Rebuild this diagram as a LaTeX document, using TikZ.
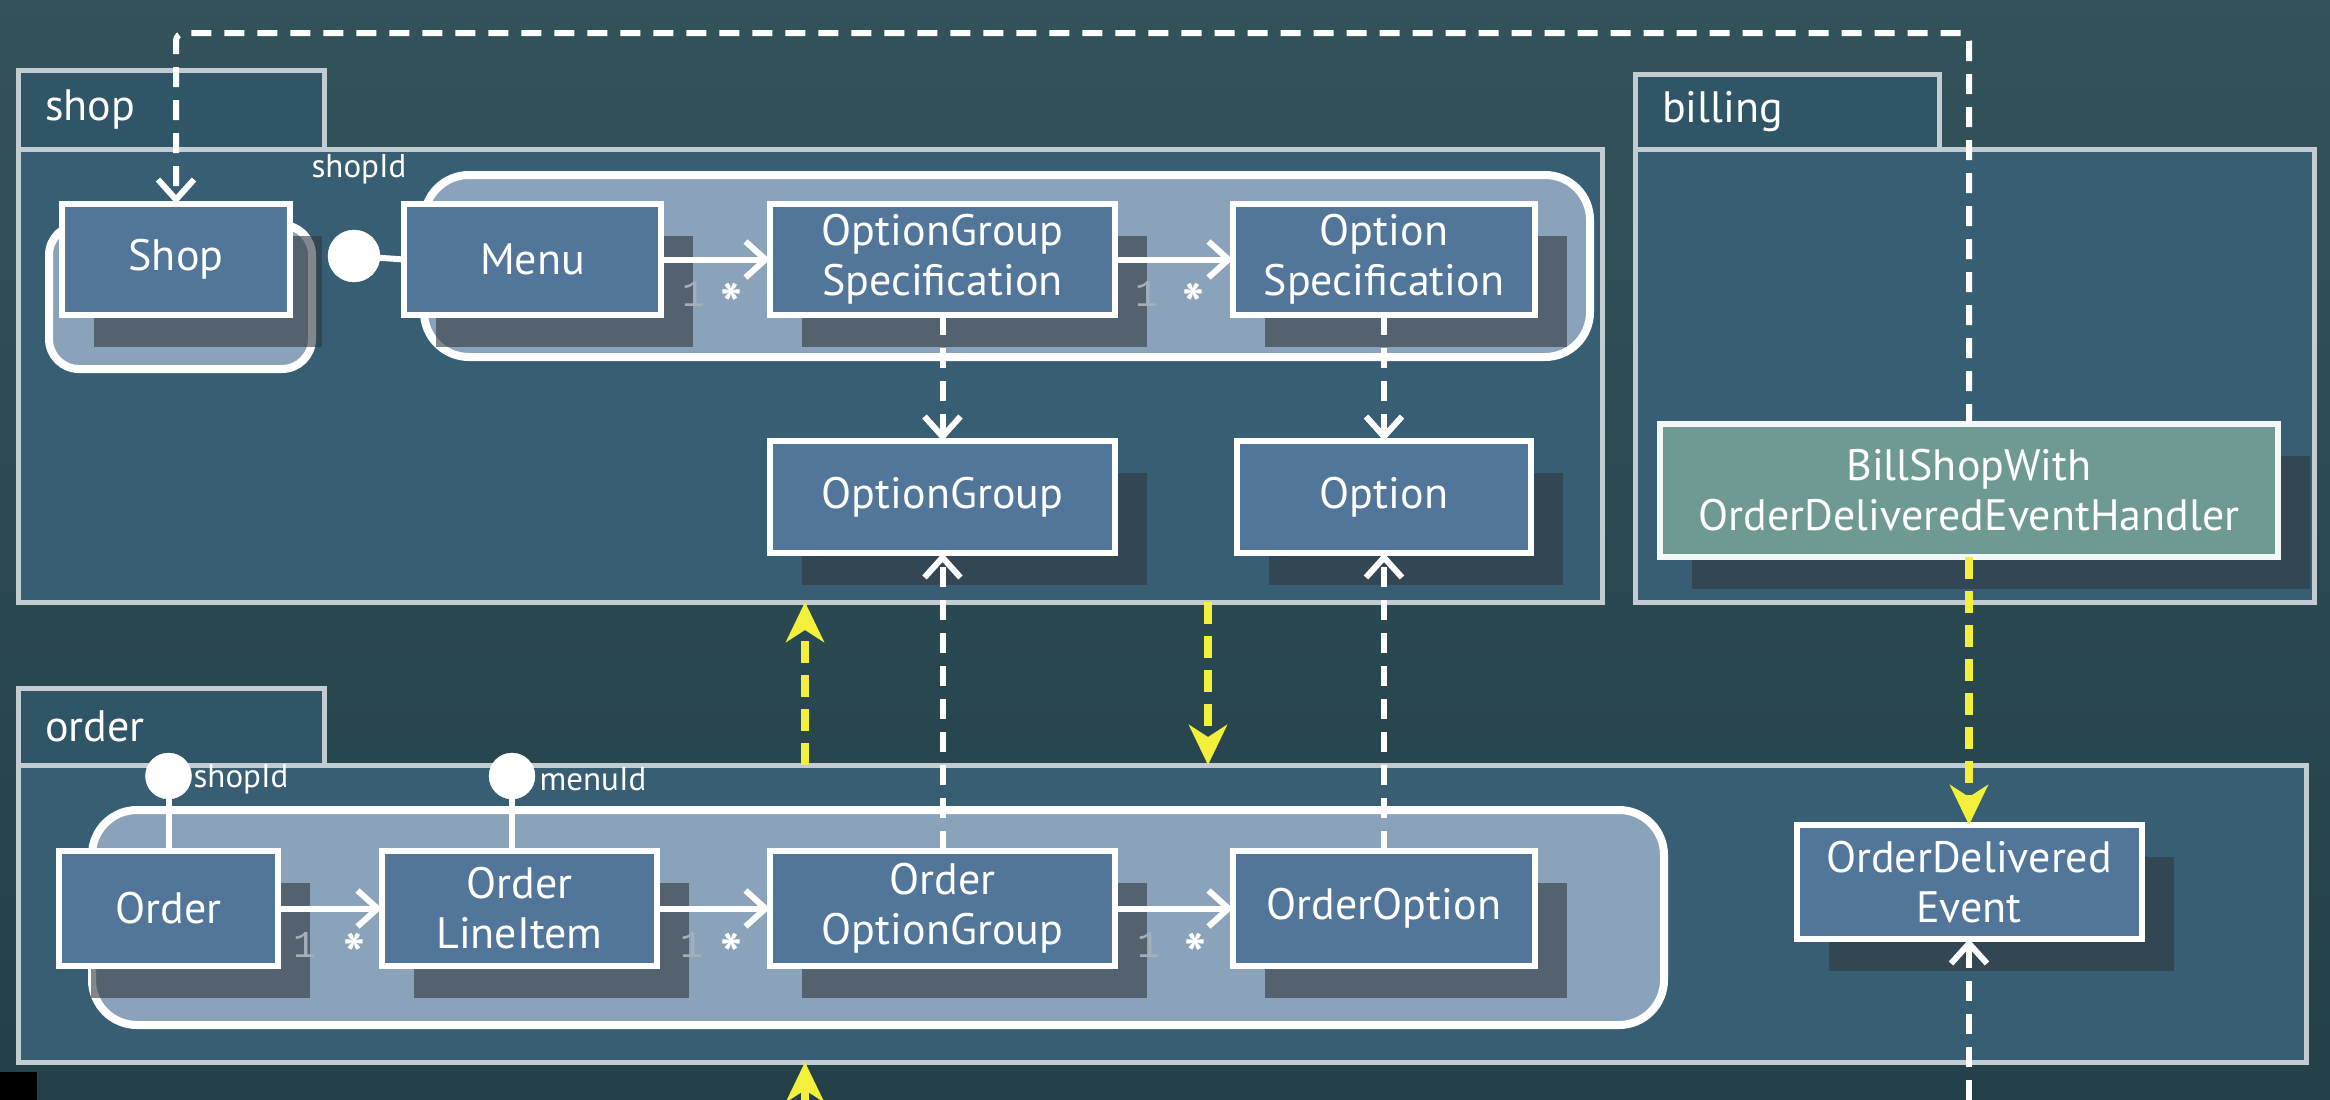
\documentclass[tikz,border=0pt]{standalone}
\usepackage{fontspec}
\setmainfont{PT Sans}
\newfontfamily\monofnt{Liberation Mono}
\usetikzlibrary{arrows.meta,shadows,calc}
\definecolor{bgc}{HTML}{284952}
\definecolor{pkgfill}{HTML}{375E72}
\definecolor{tabfill}{HTML}{2F5566}
\definecolor{pkgline}{HTML}{C3CCD0}
\definecolor{nodeblue}{HTML}{52769A}
\definecolor{aggfill}{HTML}{8BA3BA}
\definecolor{shadowc}{HTML}{30383F}
\definecolor{billfill}{HTML}{6F9A93}
\definecolor{yel}{HTML}{F2F03A}
\definecolor{onegray}{HTML}{A3AFBA}
\newcommand\mynodefont{\fontsize{44pt}{50pt}\selectfont}
\newcommand\mytabfont{\fontsize{44pt}{50pt}\selectfont}
\newcommand\mysmallfont{\fontsize{33pt}{38pt}\selectfont}
\begin{document}
\begin{tikzpicture}[x=1pt,y=-1pt,
  cls/.style={draw=white, line width=6pt, fill=nodeblue, text=white, font=\mynodefont,
    align=center, inner sep=0pt, outer sep=0pt,
    drop shadow={shadow xshift=32pt, shadow yshift=-32pt, fill=shadowc, opacity=0.6}},
  pkg/.style={draw=pkgline, line width=5pt, fill=pkgfill, inner sep=0pt, outer sep=0pt},
  tabbox/.style={pkg, fill=tabfill, anchor=north west, text=white, font=\mytabfont, align=left},
  agg/.style={draw=white, line width=8pt, fill=aggfill},
  wtip/.style={-{Straight Barb[length=20pt,width=36pt]}},
  ytip/.style={-{Stealth[length=40pt,width=38pt,inset=12pt]}},
  wline/.style={draw=white, line width=6pt},
  wdash/.style={draw=white, line width=6pt, dash pattern=on 20pt off 13pt},
  ydash/.style={draw=yel, line width=8pt, dash pattern=on 22pt off 12pt},
  lolli/.style={circle, fill=white, draw=white, inner sep=0pt, outer sep=0pt},
  small/.style={text=white, font=\mysmallfont, inner sep=0pt},
  one/.style={text=onegray, font=\monofnt\fontsize{38pt}{40pt}\selectfont, inner sep=0pt},
  star/.style={text=white, font=\fontsize{58pt}{60pt}\selectfont\bfseries, inner sep=0pt}
]
\useasboundingbox (0,0) rectangle (2330,1100);
\shade[top color=bgc!95!white, bottom color=bgc!88!black] (0,0) rectangle (2330,1100);

% packages
\node[tabbox, minimum width=306pt, minimum height=79pt, text width=252pt] (shoptab) at (18,70) {shop};
\node[pkg, minimum width=1584pt, minimum height=453pt] (shoppkg) at (810,375.5) {};
\node[tabbox, minimum width=304pt, minimum height=75pt, text width=250pt] (billtab) at (1635,74) {billing};
\node[pkg, minimum width=679pt, minimum height=453pt] (billpkg) at (1974.5,375.5) {};
\node[tabbox, minimum width=306pt, minimum height=77pt, text width=252pt] (ordertab) at (18,688) {order};
\node[pkg, minimum width=2288pt, minimum height=297pt] (orderpkg) at (1162,913.5) {};

% aggregates
\draw[agg, rounded corners=30pt] (49,225) rectangle (312,369);
\draw[agg, rounded corners=45pt] (424,175) rectangle (1590,357);
\draw[agg, rounded corners=45pt] (92,810) rectangle (1664,1025);

% classes
\node[cls, minimum width=228pt, minimum height=111pt] (shop) at (176,259.5) {Shop};
\node[cls, minimum width=257pt, minimum height=111pt] (menu) at (532.5,259.5) {Menu};
\node[cls, minimum width=345pt, minimum height=111pt] (ogs) at (942.5,259.5) {OptionGroup\\Specification};
\node[cls, minimum width=302pt, minimum height=111pt] (os) at (1384,259.5) {Option\\Specification};
\node[cls, minimum width=345pt, minimum height=112pt] (og) at (942.5,497) {OptionGroup};
\node[cls, minimum width=294pt, minimum height=112pt] (opt) at (1384,497) {Option};
\node[cls, fill=billfill, draw=white!92!billfill, minimum width=618pt, minimum height=133pt] (bill) at (1969,490.5) {BillShopWith\\OrderDeliveredEventHandler};
\node[cls, minimum width=219pt, minimum height=115pt] (order) at (168.5,908.5) {Order};
\node[cls, minimum width=275pt, minimum height=115pt] (oli) at (519.5,908.5) {Order\\LineItem};
\node[cls, minimum width=345pt, minimum height=115pt] (oog) at (942.5,908.5) {Order\\OptionGroup};
\node[cls, minimum width=302pt, minimum height=115pt] (oo) at (1384,908.5) {OrderOption};
\node[cls, minimum width=345pt, minimum height=114pt] (ode) at (1969,882) {OrderDelivered\\Event};

% associations
\draw[wline, wtip] (menu.east) -- (ogs.west);
\draw[wline, wtip] (ogs.east) -- (os.west);
\draw[wline, wtip] (order.east) -- (oli.west);
\draw[wline, wtip] (oli.east) -- (oog.west);
\draw[wline, wtip] (oog.east) -- (oo.west);
\node[one] (m1a) at (694,294) {1};
\node[star] (m1b) at (731,304) {*};
\node[one] (m2a) at (1147,294) {1};
\node[star] (m2b) at (1193,304) {*};
\node[one] (m3a) at (305,945) {1};
\node[star] (m3b) at (354,954) {*};
\node[one] (m4a) at (692,945) {1};
\node[star] (m4b) at (731,954) {*};
\node[one] (m5a) at (1149,945) {1};
\node[star] (m5b) at (1195,954) {*};

% id references (lollipops)
\node[lolli, minimum size=52pt] (lp1) at (354,256) {};
\draw[wline] (lp1) -- (menu.west);
\node[small] (lbl1) at (359,169) {shopId};
\node[lolli, minimum size=46pt] (lp2) at (168.5,776) {};
\draw[wline] (lp2) -- (order.north);
\node[small] (lbl2) at (241,779) {shopId};
\node[lolli, minimum size=46pt] (lp3) at (512,776) {};
\draw[wline] (lp3) -- (lp3 |- oli.north);
\node[small] (lbl3) at (593,779) {menuId};

% dependencies
\coordinate (tr) at (1969,33);
\coordinate (tl) at (176,33);
\draw[wdash, wtip, rounded corners=8pt] (bill.north) -- (tr) -- (tl) -- (shop.north);
\draw[wdash, wtip] (ogs.south) -- (og.north);
\draw[wdash, wtip] (os.south) -- (opt.north);
\draw[wdash, wtip] (oog.north) -- (og.south);
\draw[wdash, wtip] (oo.north) -- (opt.south);
\coordinate (bot) at (1969,1100);
\draw[wdash, wtip] (bot) -- (ode.south);

% package dependencies (yellow)
\coordinate (yu) at (805,0);
\coordinate (yd) at (1208,0);
\coordinate (ybot) at (805,1112);
\draw[ydash, ytip] (orderpkg.north -| yu) -- (shoppkg.south -| yu);
\draw[ydash, ytip] (shoppkg.south -| yd) -- (orderpkg.north -| yd);
\draw[ydash, ytip] (bill.south) -- (ode.north);
\draw[ydash, ytip] (ybot) -- (orderpkg.south -| yu);

\fill[black] (0,1072) rectangle (37,1100);
\end{tikzpicture}
\end{document}
